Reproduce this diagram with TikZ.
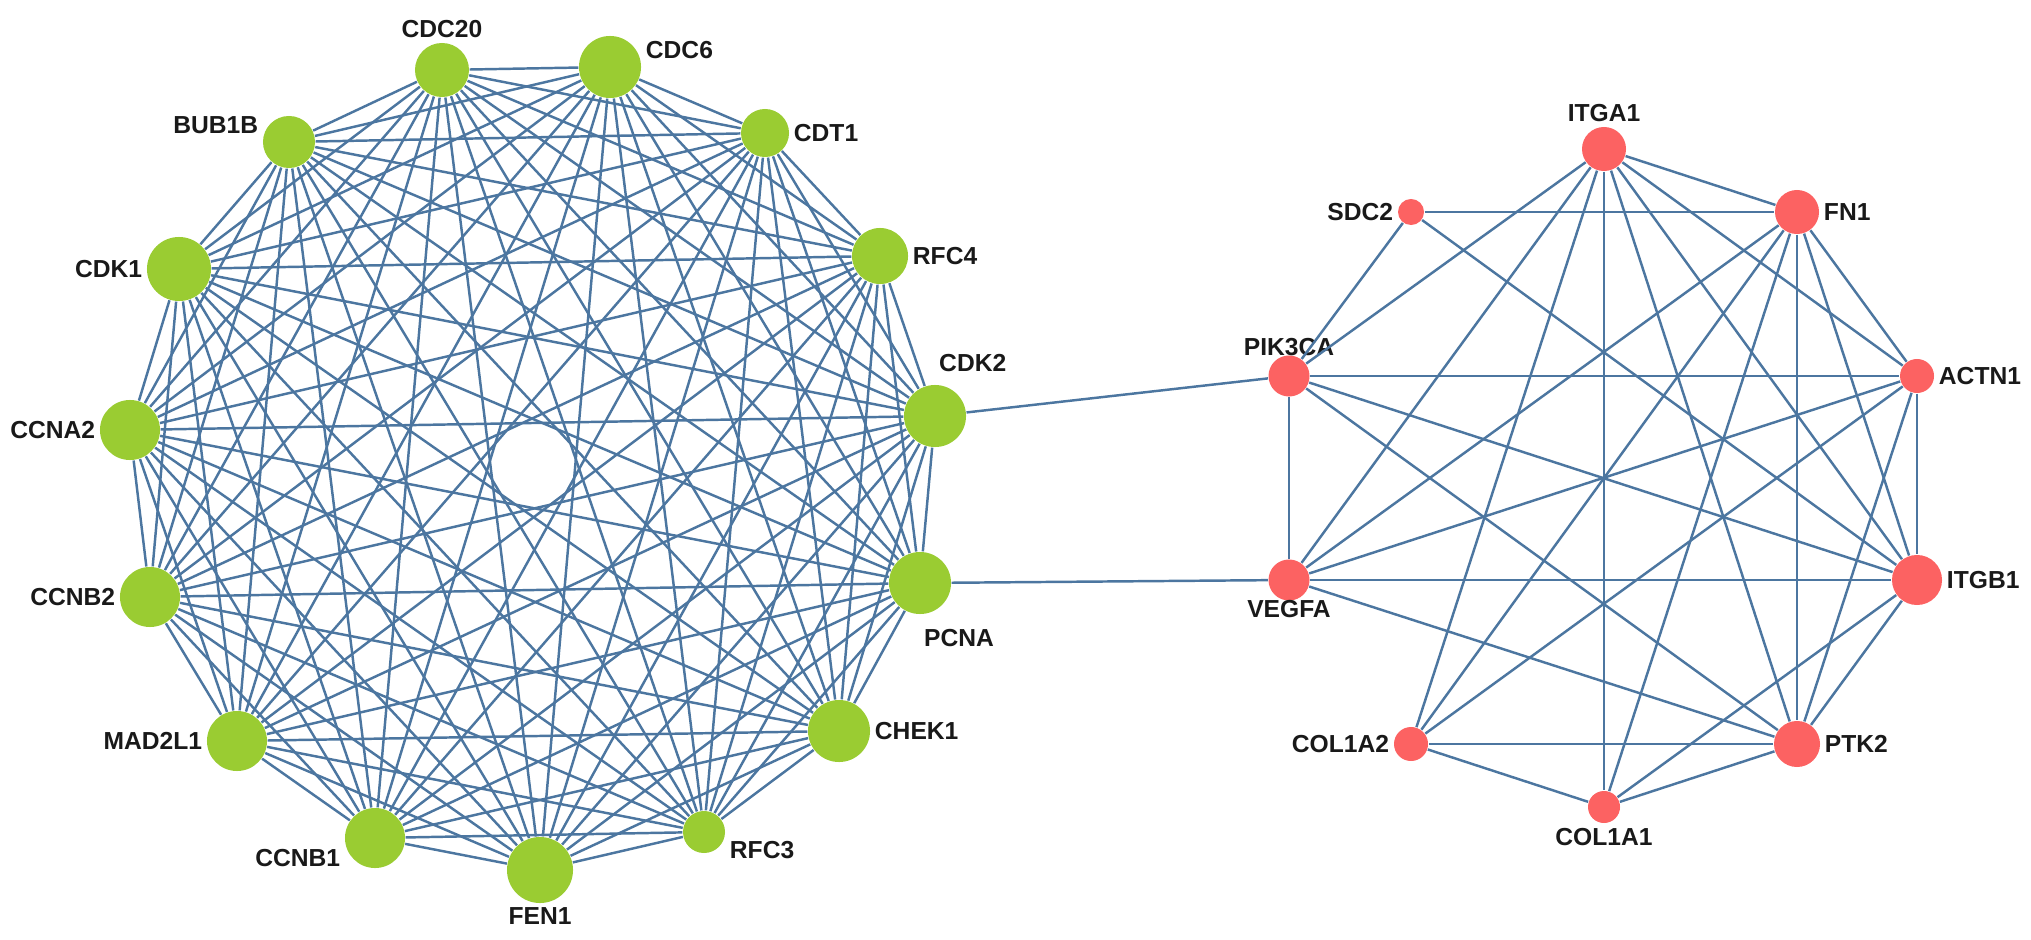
\documentclass[tikz,border=0pt]{standalone}
\usepackage{fontspec}
\setmainfont{Liberation Sans}
\definecolor{genegreen}{RGB}{154,204,50}
\definecolor{genered}{RGB}{252,98,98}
\definecolor{linkblue}{RGB}{76,118,160}

\begin{document}
\begin{tikzpicture}[x=0.01cm,y=-0.01cm]
        \tikzstyle{green gene}=[circle,fill=genegreen,inner sep=0pt]
        \tikzstyle{red gene}=[circle,fill=genered,inner sep=0pt]
        \tikzstyle{gene label}=[font=\fontsize{7}{8}\selectfont\bfseries,text=black!90,inner sep=1pt]
        \tikzstyle{edge}=[draw=linkblue,line width=0.7pt]

        \useasboundingbox (0,0) rectangle (2031,940);

        % left module
        \node [green gene,minimum size=6.2mm,label={[gene label,anchor=south west,yshift=0.8mm]north:CDK2}] (cdk2) at (935,416) {};
        \node [green gene,minimum size=5.6mm,label={[gene label]east:RFC4}] (rfc4) at (880,256) {};
        \node [green gene,minimum size=4.8mm,label={[gene label]east:CDT1}] (cdt1) at (765,133) {};
        \node [green gene,minimum size=6.2mm,label={[gene label,yshift=1.7mm]east:CDC6}] (cdc6) at (610,67) {};
        \node [green gene,minimum size=5.4mm,label={[gene label]north:CDC20}] (cdc20) at (442,70) {};
        \node [green gene,minimum size=5.2mm,label={[gene label,yshift=1.7mm]west:BUB1B}] (bub1b) at (289,142) {};
        \node [green gene,minimum size=6.4mm,label={[gene label]west:CDK1}] (cdk1) at (179,269) {};
        \node [green gene,minimum size=6.0mm,label={[gene label]west:CCNA2}] (ccna2) at (130,430) {};
        \node [green gene,minimum size=6.0mm,label={[gene label]west:CCNB2}] (ccnb2) at (150,597) {};
        \node [green gene,minimum size=6.0mm,label={[gene label]west:MAD2L1}] (mad2l1) at (237,741) {};
        \node [green gene,minimum size=6.0mm,label={[gene label,yshift=-2mm]west:CCNB1}] (ccnb1) at (375,838) {};
        \node [green gene,minimum size=6.6mm,label={[gene label]south:FEN1}] (fen1) at (540,870) {};
        \node [green gene,minimum size=4.2mm,label={[gene label,yshift=-1.8mm]east:RFC3}] (rfc3) at (704,832) {};
        \node [green gene,minimum size=6.2mm,label={[gene label]east:CHEK1}] (chek1) at (839,731) {};
        \node [green gene,minimum size=6.2mm,label={[gene label,anchor=north west,yshift=-1mm]south:PCNA}] (pcna) at (920,583) {};

        % right module
        \node [red gene,minimum size=4.4mm,label={[gene label]north:ITGA1}] (itga1) at (1604,149) {};
        \node [red gene,minimum size=4.4mm,label={[gene label]east:FN1}] (fn1) at (1797,212) {};
        \node [red gene,minimum size=3.4mm,label={[gene label]east:ACTN1}] (actn1) at (1917,376) {};
        \node [red gene,minimum size=5.0mm,label={[gene label]east:ITGB1}] (itgb1) at (1917,580) {};
        \node [red gene,minimum size=4.6mm,label={[gene label]east:PTK2}] (ptk2) at (1797,744) {};
        \node [red gene,minimum size=3.2mm,label={[gene label]south:COL1A1}] (col1a1) at (1604,807) {};
        \node [red gene,minimum size=3.4mm,label={[gene label]west:COL1A2}] (col1a2) at (1411,744) {};
        \node [red gene,minimum size=4.1mm,label={[gene label,yshift=0.5mm]south:VEGFA}] (vegfa) at (1289,580) {};
        \node [red gene,minimum size=4.1mm,label={[gene label,yshift=-0.5mm]north:PIK3CA}] (pik3ca) at (1289,376) {};
        \node [red gene,minimum size=2.6mm,label={[gene label]west:SDC2}] (sdc2) at (1411,212) {};

        % every pair of the left module is linked
        \def\greengenes{cdk2,rfc4,cdt1,cdc6,cdc20,bub1b,cdk1,ccna2,ccnb2,mad2l1,ccnb1,fen1,rfc3,chek1,pcna}
        \foreach \a [count=\i] in \greengenes {
          \foreach \b [count=\j] in \greengenes {
            \ifnum\j>\i \path[edge] (\a) -- (\b); \fi
          }
        }

        \foreach \a/\b in {pik3ca/sdc2,pik3ca/itga1,pik3ca/actn1,pik3ca/itgb1,pik3ca/ptk2,pik3ca/vegfa,
                           vegfa/itga1,vegfa/fn1,vegfa/actn1,vegfa/itgb1,vegfa/ptk2,
                           sdc2/fn1,sdc2/itgb1,
                           itga1/fn1,itga1/actn1,itga1/col1a2,itga1/col1a1,itga1/ptk2,itga1/itgb1,
                           fn1/actn1,fn1/itgb1,fn1/ptk2,fn1/col1a2,fn1/col1a1,
                           actn1/itgb1,actn1/col1a2,actn1/ptk2,
                           itgb1/ptk2,itgb1/col1a1,
                           ptk2/col1a2,ptk2/col1a1,col1a2/col1a1}
          \path[edge] (\a) -- (\b);

        % links between the modules
        \path[edge] (cdk2) -- (pik3ca);
        \path[edge] (pcna) -- (vegfa);
\end{tikzpicture}
\end{document}
